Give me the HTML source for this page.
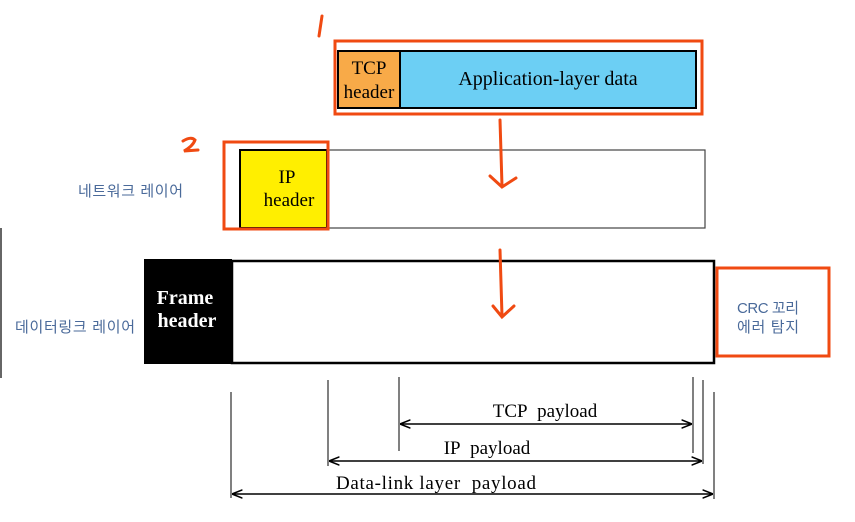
<!DOCTYPE html>
<html><head><meta charset="utf-8"><style>
html,body{margin:0;padding:0;background:#fff;width:855px;height:522px;overflow:hidden}
svg{display:block}
.s{font-family:"Liberation Serif",serif;fill:#000}
.k{font-family:"Liberation Sans","Noto Sans CJK KR",sans-serif;fill:#4a6a9a;font-size:15px}
</style></head><body>
<svg width="855" height="522" viewBox="0 0 855 522">
<defs>
<marker id="a" viewBox="0 0 10 10" refX="9" refY="5" markerWidth="7" markerHeight="7" orient="auto-start-reverse"><path d="M0,1 L10,5 L0,9" fill="none" stroke="#000" stroke-width="1.5"/></marker>
</defs>
<!-- 1 -->
<path d="M322,16 L319,36" stroke="#f04a12" stroke-width="3" fill="none" stroke-linecap="round"/>
<rect x="335" y="41" width="367" height="73" fill="none" stroke="#f04a12" stroke-width="3"/>
<rect x="338" y="51" width="62" height="57" fill="#f8aa48" stroke="#000" stroke-width="2"/>
<rect x="400" y="51" width="296" height="57" fill="#6ccff4" stroke="#000" stroke-width="2"/>
<text class="s" x="369" y="74" font-size="19" text-anchor="middle">TCP</text>
<text class="s" x="369" y="98" font-size="19" text-anchor="middle">header</text>
<text class="s" x="548" y="85" font-size="20" text-anchor="middle">Application-layer data</text>
<!-- 2 -->
<path d="M183,141 Q191,136 195,140 Q193,146 184,151 L198,150" stroke="#f04a12" stroke-width="3" fill="none" stroke-linecap="round"/>
<rect x="240" y="150" width="465" height="78" fill="#fff" stroke="#444" stroke-width="1.2"/>
<rect x="240" y="150" width="87" height="78" fill="#ffef00" stroke="#000" stroke-width="2"/>
<rect x="224" y="142" width="104" height="87" fill="none" stroke="#f04a12" stroke-width="3"/>
<text class="s" x="287" y="183" font-size="19" text-anchor="middle">IP</text>
<text class="s" x="289" y="206" font-size="19" text-anchor="middle">header</text>
<text class="k" x="78" y="196" textLength="105">네트워크 레이어</text>
<!-- arrow 1 -->
<path d="M500,120 L502,186 M490,176 L502,187 L516,178" stroke="#f04a12" stroke-width="3" fill="none" stroke-linecap="round"/>
<line x1="1" y1="228" x2="1" y2="378" stroke="#333" stroke-width="1.5"/>
<rect x="232" y="261" width="482" height="102" fill="none" stroke="#000" stroke-width="2.5"/>
<rect x="144" y="259" width="88" height="105" fill="#000"/>
<text class="s" x="185" y="304" font-size="20" font-weight="bold" style="fill:#fff" text-anchor="middle">Frame</text>
<text class="s" x="187" y="327" font-size="20" font-weight="bold" style="fill:#fff" text-anchor="middle">header</text>
<!-- arrow 2 -->
<path d="M500,250 L502,316 M493,306 L502,317 L514,306" stroke="#f04a12" stroke-width="3" fill="none" stroke-linecap="round"/>
<rect x="717" y="268" width="112" height="88" fill="none" stroke="#f04a12" stroke-width="3"/>
<text class="k" x="737" y="313" textLength="62">CRC 꼬리</text>
<text class="k" x="737" y="332" textLength="62">에러 탐지</text>
<text class="k" x="15" y="332" textLength="120">데이터링크 레이어</text>
<!-- dimension lines -->
<g stroke="#000" stroke-width="1">
<line x1="231" y1="392" x2="231" y2="498"/>
<line x1="328" y1="380" x2="328" y2="466"/>
<line x1="399" y1="377" x2="399" y2="451"/>
<line x1="693" y1="377" x2="693" y2="453"/>
<line x1="703" y1="380" x2="703" y2="464"/>
<line x1="714" y1="392" x2="714" y2="499"/>
<line x1="401" y1="424" x2="691" y2="424" marker-start="url(#a)" marker-end="url(#a)" stroke-width="1.5"/>
<line x1="330" y1="461" x2="701" y2="461" marker-start="url(#a)" marker-end="url(#a)" stroke-width="1.5"/>
<line x1="233" y1="494" x2="712" y2="494" marker-start="url(#a)" marker-end="url(#a)" stroke-width="1.5"/>
</g>
<text class="s" x="545" y="417" font-size="19" text-anchor="middle">TCP&#160; payload</text>
<text class="s" x="487" y="454" font-size="19" text-anchor="middle">IP&#160; payload</text>
<text class="s" x="436" y="489" font-size="19" text-anchor="middle" textLength="200">Data-link layer&#160; payload</text>
</svg>
</body></html>
